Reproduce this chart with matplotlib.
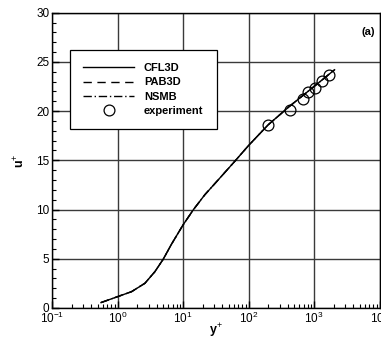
import matplotlib
matplotlib.use("Agg")
import matplotlib.pyplot as plt
from matplotlib.ticker import LogLocator, MultipleLocator, NullFormatter

plt.rcParams['font.family'] = ['Liberation Sans', 'DejaVu Sans']
plt.rcParams['mathtext.fontset'] = 'custom'
plt.rcParams['mathtext.rm'] = 'Liberation Sans'
plt.rcParams['mathtext.it'] = 'Liberation Sans:italic'
plt.rcParams['mathtext.bf'] = 'Liberation Sans:bold'

# Velocity profile in wall units
cfl3d_yplus = [0.56, 1.64, 2.62, 3.72, 4.98, 6.68, 10.0, 14.3, 21.5, 34.3, 61.7,
               100, 199, 425, 1000, 2060]
cfl3d_uplus = [0.55, 1.66, 2.51, 3.69, 4.95, 6.49, 8.43, 9.96, 11.5, 13.0, 14.9,
               16.5, 18.6, 20.5, 22.5, 24.2]
pab3d_yplus = [0.56, 1.64, 2.62, 3.72, 4.98, 6.68, 10.0, 14.3, 21.5, 34.3, 61.7,
               100, 199, 425, 1000, 2060]
pab3d_uplus = [0.55, 1.66, 2.51, 3.69, 4.95, 6.49, 8.43, 9.96, 11.5, 13.0, 14.9,
               16.5, 18.6, 20.5, 22.5, 24.2]
nsmb_yplus = [0.56, 1.64, 2.62, 3.72, 4.98, 6.68, 10.0, 14.3, 21.5, 34.3, 61.7,
              100, 199, 425, 1000, 2060]
nsmb_uplus = [0.55, 1.66, 2.51, 3.69, 4.95, 6.49, 8.43, 9.96, 11.5, 13.0, 14.9,
              16.5, 18.6, 20.5, 22.5, 24.2]

exp_yplus = [199, 425, 673, 815, 1020, 1340, 1700]
exp_uplus = [18.6, 20.1, 21.2, 21.9, 22.35, 23.1, 23.7]

fig = plt.figure(figsize=(3.81, 3.41), dpi=100)
ax = fig.add_axes([0.1365, 0.0968, 0.8596, 0.866])

ax.plot(cfl3d_yplus, cfl3d_uplus, color='black', lw=1.0, ls='-', label='CFL3D')
ax.plot(pab3d_yplus, pab3d_uplus, color='black', lw=1.0, ls=(0, (6, 4)), label='PAB3D')
ax.plot(nsmb_yplus, nsmb_uplus, color='black', lw=1.0, ls=(0, (6, 2, 1, 2)), label='NSMB')
ax.plot(exp_yplus, exp_uplus, ls='none', marker='o', ms=7.8, mfc='none',
        mec='black', mew=0.9, label='experiment')

ax.set_xscale('log')
ax.set_xlim(0.1, 1e4)
ax.set_ylim(0, 30)

ax.xaxis.set_major_locator(LogLocator(base=10, numticks=10))
ax.xaxis.set_minor_locator(LogLocator(base=10, subs=range(2, 10), numticks=20))
ax.xaxis.set_minor_formatter(NullFormatter())
ax.yaxis.set_major_locator(MultipleLocator(5))
ax.yaxis.set_minor_locator(MultipleLocator(1))

ax.tick_params(which='both', direction='in', top=False, right=False, labelsize=8.5, pad=2)
ax.tick_params(which='major', length=5, width=1)
ax.tick_params(which='minor', length=3, width=0.8)

ax.grid(True, which='major', color='#3a3a3a', lw=1.0)
for s in ax.spines.values():
    s.set_linewidth(1.0)
    s.set_color('black')

ax.set_xlabel('y$^{+}$', fontsize=9, fontweight='bold', labelpad=-3)
ax.set_ylabel('u$^{+}$', fontsize=9, fontweight='bold', labelpad=6)

ax.text(0.985, 0.935, '(a)', transform=ax.transAxes, ha='right', va='center',
        fontsize=8, fontweight='bold')

leg = ax.legend(loc='upper left', bbox_to_anchor=(0.055, 0.874), borderaxespad=0,
                frameon=True, fancybox=False, framealpha=1, edgecolor='black',
                handlelength=4.6, handletextpad=0.85, borderpad=1.2, labelspacing=0.38,
                prop={'size': 8, 'weight': 'bold'})
leg.get_frame().set_linewidth(0.9)

fig.savefig('out.png', dpi=100)
